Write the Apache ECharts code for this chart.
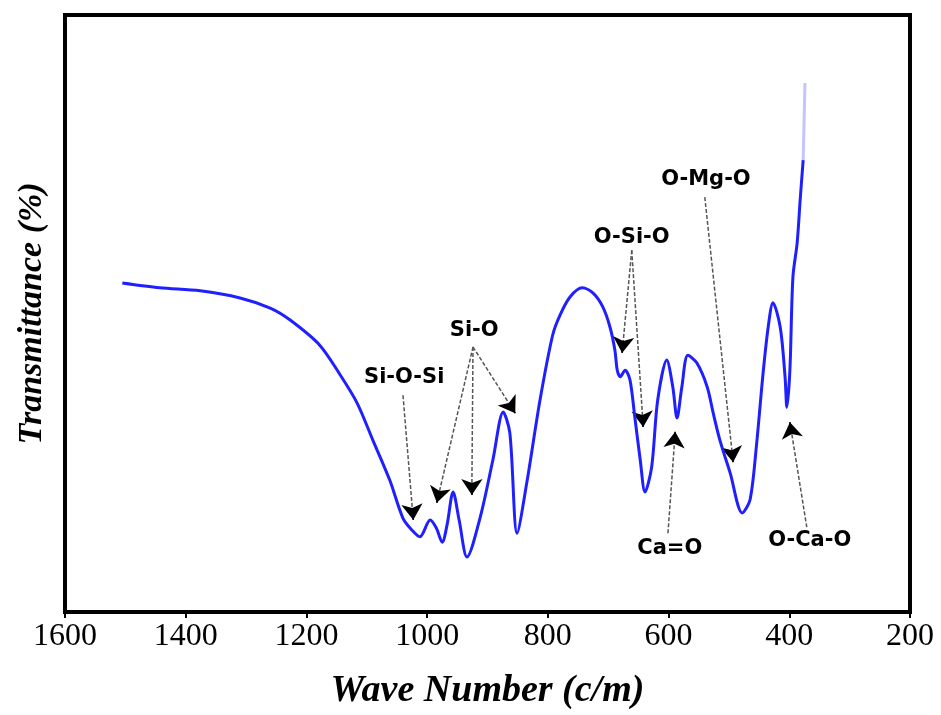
<!DOCTYPE html>
<html>
<head>
<meta charset="utf-8">
<script src="https://cdn.jsdelivr.net/npm/echarts@6/dist/echarts.min.js"></script>
<style>
  html, body { margin: 0; padding: 0; background: #fff; }
  #chart { width: 941px; height: 715px; }
</style>
</head>
<body>
<div id="chart"></div>
<script>
// spectrum (wave number, transmittance in arbitrary %)
const wave = [1505, 1443, 1376, 1310, 1260, 1227, 1178, 1144, 1116, 1090, 1062, 1040, 1025, 1012,
  995, 985, 975, 967, 957, 947, 934, 912, 891, 874, 863, 851, 835, 813, 792, 780, 763, 743, 725,
  709, 697, 689, 685, 680, 672, 664, 656, 647, 639, 628, 618, 603, 593, 586, 578, 568, 553, 536,
  526, 515, 498, 478, 465, 454, 444, 435, 427, 415, 407, 404, 399, 394, 387, 382, 377];
const trans = [55.1, 54.3, 53.8, 52.6, 50.9, 48.9, 44.7, 39.7, 35.0, 28.8, 22.1, 15.7, 13.7, 12.6,
  15.4, 14.1, 11.7, 14.6, 20.1, 15.4, 9.2, 15.9, 25.5, 33.5, 30.0, 13.2, 21.6, 35.5, 46.4, 49.7, 52.8, 54.3, 53.4,
  51.1, 47.7, 43.9, 40.5, 39.4, 40.5, 38.9, 32.7, 25.5, 20.1, 24.3, 35.5, 42.2, 37.7, 32.5, 37.7, 43.0, 41.7, 37.7,
  33.3, 28.8, 23.3, 16.6, 18.8, 28.3, 39.4, 47.7, 51.8, 47.7, 39.4, 34.3, 40.5, 56.1, 61.8, 69.0, 75.7];
// faint tail at the top of the last rise
const tailWave = [377, 374];
const tailTrans = [75.7, 88.6];

const xTicks = [1600, 1400, 1200, 1000, 800, 600, 400, 200];

// band labels and the arrows pointing at them
const bandNames = ['Si-O-Si', 'Si-O', 'O-Si-O', 'O-Mg-O', 'Ca=O', 'O-Ca-O'];
const bandLabelAt = [[1038, 39.2], [922, 47.2], [661, 62.8], [538, 72.4], [598, 10.6], [366, 11.9]];
const arrowFrom = [[1040, 36.3], [924, 44.4], [924, 44.4], [924, 44.4], [661, 60.6], [661, 60.6], [540, 69.5], [601, 13.2], [371, 14.2]];
const arrowTo   = [[1023, 15.4], [984, 18.3], [926, 19.6], [854, 33.3], [677, 43.4], [642, 31.0], [493, 25.1], [589, 30.2], [399, 31.8]];

const chart = echarts.init(document.getElementById('chart'));
const serif = '"Liberation Serif", "Times New Roman", serif';

// short piece at the end of each arrow, carries the black head
const heads = arrowFrom.map((p, i) => {
  const q = arrowTo[i];
  const s = [q[0] - (q[0] - p[0]) * 0.04, q[1] - (q[1] - p[1]) * 0.04];
  return { coords: [s, q] };
});

const option = {
  animation: false,
  grid: {
    left: 65, right: 31, top: 15, bottom: 103,
    show: true, borderColor: '#000', borderWidth: 4, backgroundColor: '#fff'
  },
  xAxis: {
    type: 'value', inverse: true, min: 200, max: 1600, interval: 200,
    axisLine: { show: false },
    axisTick: { show: true, inside: false, length: 6, lineStyle: { color: '#000', width: 2 } },
    axisLabel: {
      color: '#000', fontFamily: serif, fontSize: 32, margin: 9,
      formatter: v => xTicks.includes(v) ? String(v) : ''
    },
    splitLine: { show: false },
    name: 'Wave Number (c/m)', nameLocation: 'middle', nameGap: 60,
    nameTextStyle: { fontFamily: serif, fontSize: 38, fontWeight: 'bold', fontStyle: 'italic', color: '#000' }
  },
  yAxis: {
    type: 'value', min: 0, max: 100,
    axisLine: { show: false }, axisTick: { show: false }, axisLabel: { show: false },
    splitLine: { show: false },
    name: 'Transmittance (%)', nameLocation: 'middle', nameGap: 16,
    nameTextStyle: { fontFamily: serif, fontSize: 34, fontWeight: 'bold', fontStyle: 'italic', color: '#000' }
  },
  series: [
    {
      type: 'line', smooth: 0.3, symbol: 'none',
      lineStyle: { color: '#1f1fff', width: 3 },
      data: wave.map((w, i) => [w, trans[i]])
    },
    {
      type: 'line', symbol: 'none',
      lineStyle: { color: '#c4c4ff', width: 3 },
      data: tailWave.map((w, i) => [w, tailTrans[i]])
    },
    {
      type: 'lines', coordinateSystem: 'cartesian2d',
      symbol: 'none',
      lineStyle: { color: '#555', width: 1.5, type: [4, 2], opacity: 1 },
      data: arrowFrom.map((p, i) => ({ coords: [p, arrowTo[i]] }))
    },
    {
      type: 'lines', coordinateSystem: 'cartesian2d',
      symbol: ['none', 'arrow'], symbolSize: [0, 16],
      lineStyle: { color: '#000', width: 1.5, opacity: 1 },
      data: heads
    },
    {
      type: 'scatter', symbolSize: 0,
      itemStyle: { color: '#000', opacity: 0 },
      label: {
        show: true, position: 'inside', formatter: p => p.name,
        fontFamily: '"DejaVu Sans", sans-serif', fontWeight: 'bold', fontSize: 21,
        color: '#000', textBorderWidth: 0, opacity: 1
      },
      data: bandNames.map((n, i) => ({ name: n, value: bandLabelAt[i] }))
    }
  ]
};
chart.setOption(option);
</script>
</body>
</html>
